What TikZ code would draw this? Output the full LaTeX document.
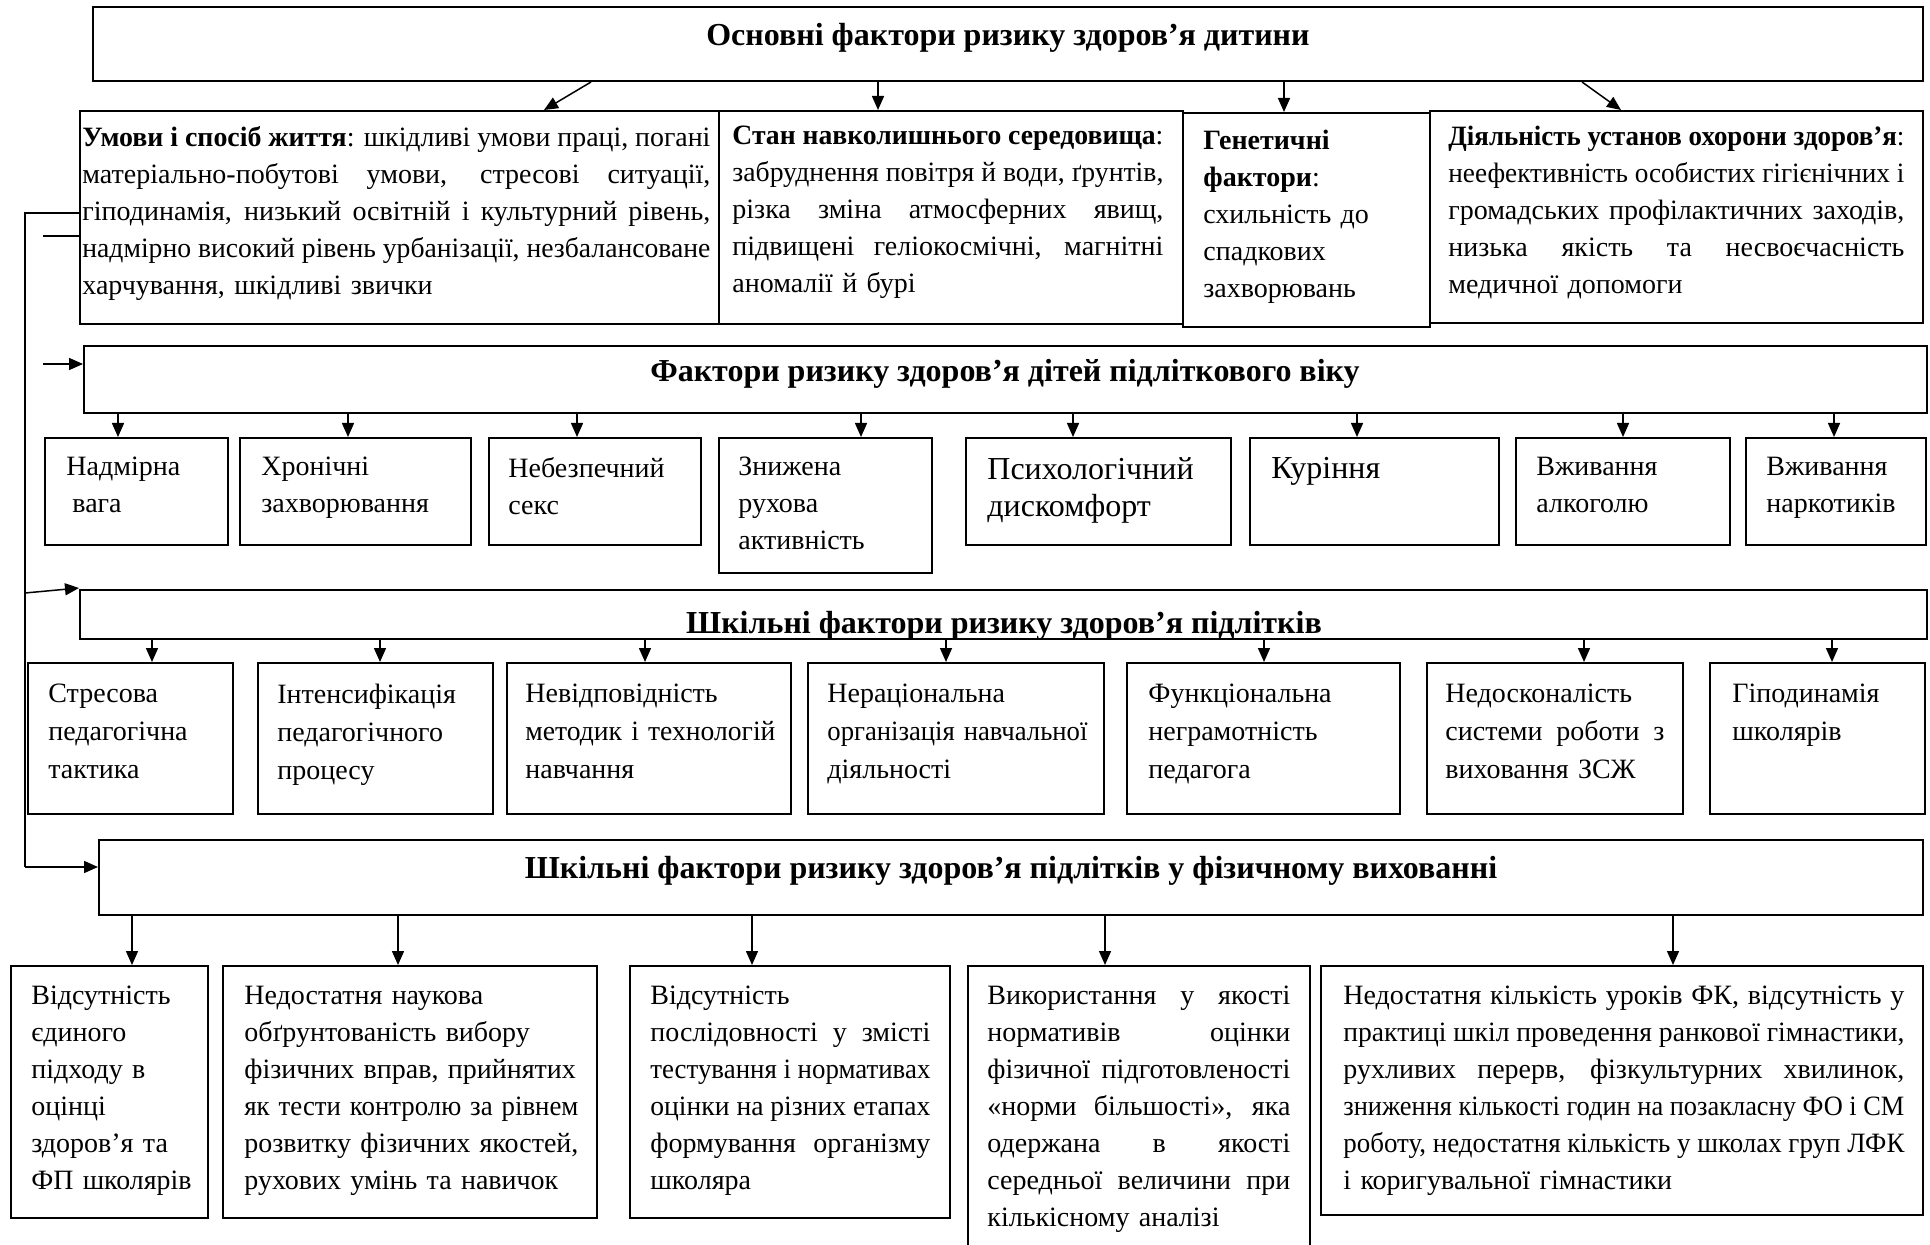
\documentclass[tikz,border=0pt]{standalone}
\usepackage{fontspec}
\setmainfont{Liberation Serif}
\usepackage{graphicx}
\usetikzlibrary{arrows.meta,fit}
\newsavebox{\linebox}
% justified line, squeezed when too long
\newcommand{\jline}[1]{\sbox{\linebox}{\spaceskip=0pt\xspaceskip=0pt #1}\ifdim\wd\linebox>\linewidth\resizebox{\linewidth}{\height}{\usebox{\linebox}}\else\makebox[\linewidth][s]{\spaceskip=0pt\xspaceskip=0pt #1}\fi}
% natural line, squeezed when too long
\newcommand{\fline}[1]{\sbox{\linebox}{#1}\ifdim\wd\linebox>\linewidth\resizebox{\linewidth}{\height}{\usebox{\linebox}}\else\usebox{\linebox}\fi}
\tikzset{
  frame/.style={draw, line width=1pt, inner sep=0pt},
  txt/.style={anchor=north west, inner sep=0pt, font=\fontsize{14}{18.5}\selectfont},
  bigtxt/.style={txt, font=\fontsize{16}{18.5}\selectfont},
  midtxt/.style={txt, font=\fontsize{14}{19}\selectfont},
  hdr/.style={inner sep=0pt, font=\fontsize{16}{18}\selectfont\bfseries},
  arr/.style={line width=0.75pt, -{Triangle[length=7pt,width=6pt]}},
  link/.style={line width=0.75pt}
}
\begin{document}
\begin{tikzpicture}[x=0.5pt, y=-0.5pt]
\useasboundingbox (0,0) rectangle (1930,1245);
%
\node[frame, fit={(93,7) (1923,81)}] (top) {};
\node[hdr] (topt) at (1008,38) {Основні фактори ризику здоров’я дитини};
%
\node[frame, fit={(80,111) (719,324)}] (ua) {};
\node[frame, fit={(719,111) (1183,324)}] (ub) {};
\node[frame, fit={(1183,113) (1430,327)}] (uc) {};
\node[frame, fit={(1430,111) (1923,323)}] (ud) {};
\node[txt, text width=314pt] (uat) at ([xshift=1.5pt, yshift=-8pt]ua.north west)
  {\jline{\textbf{Умови і спосіб життя}: шкідливі умови праці, погані}\\
   \jline{матеріально-побутові умови, стресові ситуації,}\\
   \jline{гіподинамія, низький освітній і культурний рівень,}\\
   \jline{надмірно високий рівень урбанізації, незбалансоване}\\
   харчування, шкідливі звички};
\node[txt, text width=215.5pt] (ubt) at ([xshift=7pt, yshift=-8pt]ub.north west)
  {\jline{\textbf{Стан навколишнього середовища}:}\\
   \jline{забруднення повітря й води, ґрунтів,}\\
   \jline{різка зміна атмосферних явищ,}\\
   \jline{підвищені геліокосмічні, магнітні}\\
   аномалії й бурі};
\node[txt, text width=105pt] (uct) at ([xshift=10.5pt, yshift=-9pt]uc.north west)
  {\textbf{Генетичні}\\ \textbf{фактори}:\\ схильність до\\ спадкових\\ захворювань};
\node[txt, text width=228pt] (udt) at ([xshift=9.5pt, yshift=-8pt]ud.north west)
  {\jline{\textbf{Діяльність установ охорони здоров'я}:}\\
   \jline{неефективність особистих гігієнічних і}\\
   \jline{громадських профілактичних заходів,}\\
   \jline{низька якість та несвоєчасність}\\
   медичної допомоги};
%
\draw[arr] (top.south -| 591,0) -- (ua.north -| 544,0);
\draw[arr] (top.south -| 878,0) -- (ub.north -| 878,0);
\draw[arr] (top.south -| 1284,0) -- (uc.north -| 1284,0);
\draw[arr] (top.south -| 1582,0) -- (ud.north -| 1621,0);
%
\node[frame, fit={(84,346) (1927,413)}] (h2) {};
\node[hdr] (h2t) at (1005,374) {Фактори ризику здоров’я дітей підліткового віку};
\node[frame, fit={(45,438) (228,545)}] (v1) {};
\node[frame, fit={(240,438) (471,545)}] (v2) {};
\node[frame, fit={(489,438) (701,545)}] (v3) {};
\node[frame, fit={(719,438) (932,573)}] (v4) {};
\node[frame, fit={(966,438) (1231,545)}] (v5) {};
\node[frame, fit={(1250,438) (1499,545)}] (v6) {};
\node[frame, fit={(1516,438) (1730,545)}] (v7) {};
\node[frame, fit={(1746,438) (1926,545)}] (v8) {};
\node[txt, text width=80pt] (v1t) at ([xshift=11pt, yshift=-10pt]v1.north west) {Надмірна\\ \hspace*{3pt}вага};
\node[txt, text width=100pt] (v2t) at ([xshift=11pt, yshift=-10pt]v2.north west) {Хронічні\\ захворювання};
\node[txt, text width=95pt] (v3t) at ([xshift=10pt, yshift=-10pt]v3.north west) {Небезпечний\\ секс};
\node[txt, text width=95pt] (v4t) at ([xshift=10pt, yshift=-10pt]v4.north west) {Знижена\\ рухова\\ активність};
\node[bigtxt, text width=120pt] (v5t) at ([xshift=11pt, yshift=-10pt]v5.north west) {Психологічний\\ дискомфорт};
\node[bigtxt, text width=110pt] (v6t) at ([xshift=11pt, yshift=-10pt]v6.north west) {Куріння};
\node[txt, text width=95pt] (v7t) at ([xshift=10.5pt, yshift=-10pt]v7.north west) {Вживання\\ алкоголю};
\node[txt, text width=80pt] (v8t) at ([xshift=10.5pt, yshift=-10pt]v8.north west) {Вживання\\ наркотиків};
%
\draw[arr] (h2.south -| 118,0) -- (v1.north -| 118,0);
\draw[arr] (h2.south -| 348,0) -- (v2.north -| 348,0);
\draw[arr] (h2.south -| 577,0) -- (v3.north -| 577,0);
\draw[arr] (h2.south -| 861,0) -- (v4.north -| 861,0);
\draw[arr] (h2.south -| 1073,0) -- (v5.north -| 1073,0);
\draw[arr] (h2.south -| 1357,0) -- (v6.north -| 1357,0);
\draw[arr] (h2.south -| 1623,0) -- (v7.north -| 1623,0);
\draw[arr] (h2.south -| 1834,0) -- (v8.north -| 1834,0);
%
\node[frame, fit={(80,590) (1927,639)}] (h3) {};
\begin{scope}
\clip (h3.north west) rectangle ([yshift=1.5pt]h3.south east);
\node[hdr, anchor=base] (h3t) at (1004,633) {Шкільні фактори ризику здоров’я підлітків};
\end{scope}
\node[frame, fit={(28,663) (233,814)}] (s1) {};
\node[frame, fit={(258,663) (493,814)}] (s2) {};
\node[frame, fit={(507,663) (791,814)}] (s3) {};
\node[frame, fit={(808,663) (1104,814)}] (s4) {};
\node[frame, fit={(1127,663) (1400,814)}] (s5) {};
\node[frame, fit={(1427,663) (1683,814)}] (s6) {};
\node[frame, fit={(1710,663) (1925,814)}] (s7) {};
\node[midtxt, text width=90pt] (s1t) at ([xshift=10.5pt, yshift=-11pt]s1.north west) {Стресова\\ педагогічна\\ тактика};
\node[midtxt, text width=105pt] (s2t) at ([xshift=10pt, yshift=-11pt]s2.north west) {Інтенсифікація\\ педагогічного\\ процесу};
\node[midtxt, text width=125pt] (s3t) at ([xshift=9.5pt, yshift=-11pt]s3.north west) {Невідповідність\\ \fline{методик і технологій}\\ навчання};
\node[midtxt, text width=130pt] (s4t) at ([xshift=10pt, yshift=-11pt]s4.north west) {Нераціональна\\ \fline{організація навчальної}\\ діяльності};
\node[midtxt, text width=120pt] (s5t) at ([xshift=11pt, yshift=-11pt]s5.north west) {Функціональна\\ неграмотність\\ педагога};
\node[midtxt, text width=109.5pt] (s6t) at ([xshift=9.5pt, yshift=-11pt]s6.north west) {Недосконалість\\ \jline{системи роботи з}\\ виховання ЗСЖ};
\node[midtxt, text width=90pt] (s7t) at ([xshift=11.5pt, yshift=-11pt]s7.north west) {Гіподинамія\\ школярів};
%
\draw[arr] (h3.south -| 152,0) -- (s1.north -| 152,0);
\draw[arr] (h3.south -| 380,0) -- (s2.north -| 380,0);
\draw[arr] (h3.south -| 645,0) -- (s3.north -| 645,0);
\draw[arr] (h3.south -| 946,0) -- (s4.north -| 946,0);
\draw[arr] (h3.south -| 1264,0) -- (s5.north -| 1264,0);
\draw[arr] (h3.south -| 1584,0) -- (s6.north -| 1584,0);
\draw[arr] (h3.south -| 1832,0) -- (s7.north -| 1832,0);
%
\node[frame, fit={(99,840) (1923,915)}] (h4) {};
\node[hdr] (h4t) at (1011,871) {Шкільні фактори ризику здоров’я підлітків у фізичному вихованні};
\node[frame, fit={(11,966) (208,1218)}] (f1) {};
\node[frame, fit={(223,966) (597,1218)}] (f2) {};
\node[frame, fit={(630,966) (950,1218)}] (f3) {};
\node[frame, fit={(968,966) (1310,1262)}] (f4) {};
\node[frame, fit={(1321,966) (1923,1215)}] (f5) {};
\node[txt, text width=80pt] (f1t) at ([xshift=10.5pt, yshift=-10.5pt]f1.north west)
  {Відсутність\\ єдиного\\ підходу в\\ оцінці\\ здоров’я та\\ \fline{ФП школярів}};
\node[txt, text width=167pt] (f2t) at ([xshift=11pt, yshift=-10.5pt]f2.north west)
  {\fline{Недостатня наукова}\\ \fline{обґрунтованість вибору}\\ \fline{фізичних вправ, прийнятих}\\
   \fline{як тести контролю за рівнем}\\ \fline{розвитку фізичних якостей,}\\ \fline{рухових умінь та навичок}};
\node[txt, text width=140pt] (f3t) at ([xshift=10.5pt, yshift=-10.5pt]f3.north west)
  {Відсутність\\ \jline{послідовності у змісті}\\ \jline{тестування і нормативах}\\
   \jline{оцінки на різних етапах}\\ \jline{формування організму}\\ школяра};
\node[txt, text width=151.5pt] (f4t) at ([xshift=10pt, yshift=-10.5pt]f4.north west)
  {\jline{Використання у якості}\\ \jline{нормативів оцінки}\\ \jline{фізичної підготовленості}\\
   \jline{«норми більшості», яка}\\ \jline{одержана в якості}\\ \jline{середньої величини при}\\
   \fline{кількісному аналізі}};
\node[txt, text width=280.5pt] (f5t) at ([xshift=11.5pt, yshift=-10.5pt]f5.north west)
  {\jline{Недостатня кількість уроків ФК, відсутність у}\\
   \jline{практиці шкіл проведення ранкової гімнастики,}\\
   \jline{рухливих перерв, фізкультурних хвилинок,}\\
   \jline{зниження кількості годин на позакласну ФО і СМ}\\
   \jline{роботу, недостатня кількість у школах груп ЛФК}\\
   і коригувальної гімнастики};
%
\draw[arr] (h4.south -| 132,0) -- (f1.north -| 132,0);
\draw[arr] (h4.south -| 398,0) -- (f2.north -| 398,0);
\draw[arr] (h4.south -| 752,0) -- (f3.north -| 752,0);
\draw[arr] (h4.south -| 1105,0) -- (f4.north -| 1105,0);
\draw[arr] (h4.south -| 1673,0) -- (f5.north -| 1673,0);
%
\coordinate (c1) at (25,213);
\coordinate (c2) at (43,236);
\coordinate (c3) at (43,364);
\coordinate (c4) at (25,867);
\coordinate (c5) at (25,593);
\draw[link] (c1 -| ua.west) -- (c1) -- (c4);
\draw[link] (c2) -- (c2 -| ua.west);
\draw[arr] (c3) -- (c3 -| h2.west);
\draw[arr] (c5) -- (h3.west |- 0,588);
\draw[arr] (c4) -- (c4 -| h4.west);
\end{tikzpicture}
\end{document}
